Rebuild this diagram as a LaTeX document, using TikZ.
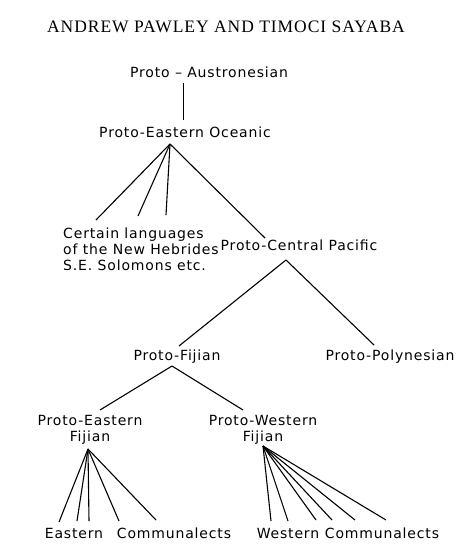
\documentclass[tikz,border=0pt]{standalone}
\usepackage{fontspec}
\setmainfont{Liberation Serif}
\newfontfamily\titlefont[LetterSpace=5.5]{Liberation Serif}
\newfontfamily\letterfont[LetterSpace=6]{DejaVu Sans}
\usepackage{tikz}
\usetikzlibrary{positioning}

\tikzset{
  lang/.style={font=\letterfont\fontsize{14}{16}\selectfont, inner sep=0pt},
  branch/.style={line width=1.1pt}
}

\begin{document}
\begin{tikzpicture}[x=1pt,y=-1pt]
        \useasboundingbox (0,0) rectangle (474,551);
        \node[font=\titlefont\fontsize{17.5}{19}\selectfont, inner sep=0pt] (T) at (226,27) {ANDREW PAWLEY AND TIMOCI SAYABA};
        \node[lang] (PAN) at (209,72) {Proto – Austronesian};
        \node[lang] (PEO) at (185,132) {Proto-Eastern Oceanic};
        \node[lang, align=left, anchor=west] (CL) at (63,249) {Certain languages\\of the New Hebrides\\S.E. Solomons etc.};
        \node[lang] (PCP) at (299,245) {Proto-Central Pacific};
        \node[lang] (PF) at (177,357) {Proto-Fijian};
        \node[lang] (PP) at (390,357) {Proto-Polynesian};
        \node[lang, align=center] (PEF) at (90,430) {Proto-Eastern\\Fijian};
        \node[lang, align=center] (PWF) at (263,430) {Proto-Western\\Fijian};
        \node[lang] (E) at (74,533) {Eastern};
        \node[lang] (C1) at (174,533) {Communalects};
        \node[lang] (W) at (288,533) {Western};
        \node[lang] (C2) at (382,533) {Communalects};
        % branching points
        \coordinate (A0) at (183.5,83);
        \coordinate (B0) at (183.5,120);
        \coordinate (A1) at (170,144);
        \coordinate (A2) at (286,260);
        \coordinate (A3) at (172,366);
        \coordinate (A4) at (88,449);
        \coordinate (A5) at (263,446);
        % ends
        \coordinate (L1) at (96,220);
        \coordinate (L2) at (138,216);
        \coordinate (L3) at (166,215);
        \coordinate (L4) at (265,238);
        \coordinate (F1) at (179,346);
        \coordinate (F2) at (374,345);
        \coordinate (G1) at (100,410);
        \coordinate (G2) at (243,410);
        \coordinate (E1) at (59,522);
        \coordinate (E2) at (77,521);
        \coordinate (E3) at (89,521);
        \coordinate (E4) at (119,521);
        \coordinate (E5) at (156,520);
        \coordinate (W1) at (271,521);
        \coordinate (W2) at (288,521);
        \coordinate (W3) at (316,520);
        \coordinate (W4) at (332,520);
        \coordinate (W5) at (355,520);
        \coordinate (W6) at (386,520);
        \draw[branch] (A0) -- (B0);
        \draw[branch] (A1) -- (L1);
        \draw[branch] (A1) -- (L2);
        \draw[branch] (A1) -- (L3);
        \draw[branch] (A1) -- (L4);
        \draw[branch] (A2) -- (F1);
        \draw[branch] (A2) -- (F2);
        \draw[branch] (A3) -- (G1);
        \draw[branch] (A3) -- (G2);
        \draw[branch] (A4) -- (E1);
        \draw[branch] (A4) -- (E2);
        \draw[branch] (A4) -- (E3);
        \draw[branch] (A4) -- (E4);
        \draw[branch] (A4) -- (E5);
        \draw[branch] (A5) -- (W1);
        \draw[branch] (A5) -- (W2);
        \draw[branch] (A5) -- (W3);
        \draw[branch] (A5) -- (W4);
        \draw[branch] (A5) -- (W5);
        \draw[branch] (A5) -- (W6);
\end{tikzpicture}
\end{document}
